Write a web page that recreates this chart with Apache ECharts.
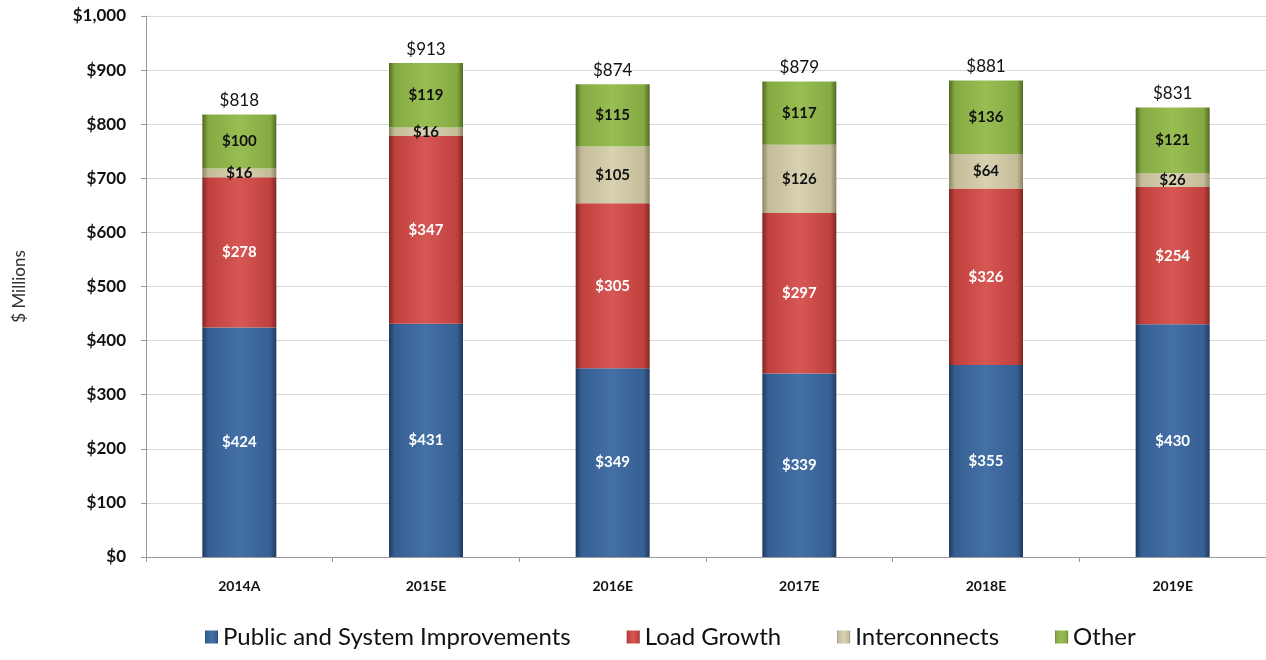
<!DOCTYPE html>
<html>
<head>
<meta charset="utf-8">
<script src="https://cdn.jsdelivr.net/npm/echarts@6/dist/echarts.min.js"></script>
<style>html,body{margin:0;padding:0;background:#fff}#c{width:1266px;height:660px}</style>
</head>
<body>
<div id="c"></div>
<script>
var categories = ['2014A','2015E','2016E','2017E','2018E','2019E'];
var publicSys = [424, 431, 349, 339, 355, 430];
var loadGrowth = [278, 347, 305, 297, 326, 254];
var interconnects = [16, 16, 105, 126, 64, 26];
var other = [100, 119, 115, 117, 136, 121];
var totals = categories.map(function(_, i){ return publicSys[i] + loadGrowth[i] + interconnects[i] + other[i]; });
var yTicks = [0, 100, 200, 300, 400, 500, 600, 700, 800, 900, 1000];

var FONT = 'Lato, "Open Sans", sans-serif';
function grad(dark, mid, light){
  return new echarts.graphic.LinearGradient(0,0,1,0,[
    {offset:0, color:dark},{offset:0.08, color:mid},{offset:0.5, color:light},{offset:0.92, color:mid},{offset:1, color:dark}
  ]);
}
function fmt(v){ return '$' + v; }
function lbl(color){
  return {show:true, position:'inside', color:color, fontFamily:FONT, fontWeight:'bold', fontSize:15,
    formatter:function(p){return fmt(p.value);}};
}
var chart = echarts.init(document.getElementById('c'));
chart.setOption({
  animation:false,
  grid:{left:146, right:-4, top:16, bottom:103},
  legend:{
    data:['Public and System Improvements','Load Growth','Interconnects','Other'],
    bottom:6, left:200, itemWidth:13, itemHeight:13, itemGap:56, icon:'rect',
    textStyle:{fontFamily:FONT, fontSize:24, color:'#111'}
  },
  xAxis:{
    type:'category', data:categories,
    axisLine:{lineStyle:{color:'#999'}},
    axisTick:{show:true, alignWithLabel:false, length:5, lineStyle:{color:'#999'}},
    axisLabel:{fontFamily:FONT, fontWeight:'bold', fontSize:14, color:'#111', margin:22}
  },
  yAxis:{
    type:'value', min:0, max:1000, interval:100,
    name:'$ Millions', nameLocation:'middle', nameGap:118, nameRotate:90,
    nameTextStyle:{fontFamily:FONT, fontSize:17, color:'#333'},
    axisLine:{show:true, lineStyle:{color:'#999'}},
    axisTick:{show:true, length:5, lineStyle:{color:'#999'}},
    splitLine:{lineStyle:{color:'#d9d9d9'}},
    axisLabel:{fontFamily:FONT, fontWeight:'bold', fontSize:17, color:'#111', margin:20,
      formatter:function(v){ return yTicks.indexOf(v) >= 0 ? '$' + v.toLocaleString('en-US') : ''; }}
  },
  series:[
    {name:'Public and System Improvements', type:'bar', stack:'a', data:publicSys, barWidth:74,
     itemStyle:{color:grad('#1f3a60','#365f93','#4470a6')}, label:lbl('#fff')},
    {name:'Load Growth', type:'bar', stack:'a', data:loadGrowth,
     itemStyle:{color:grad('#7f2624','#c0403d','#d65753')}, label:lbl('#fff')},
    {name:'Interconnects', type:'bar', stack:'a', data:interconnects,
     itemStyle:{color:grad('#8a8468','#c4bc98','#d8d2b2')}, label:lbl('#111')},
    {name:'Other', type:'bar', stack:'a', data:other,
     itemStyle:{color:grad('#4f6a22','#86aa43','#98bd52')}, label:lbl('#111')},
    {name:'Total', type:'bar', stack:'a', data:totals.map(function(){return 0;}),
     itemStyle:{color:'transparent'},
     label:{show:true, position:'top', distance:5, color:'#111', fontFamily:FONT, fontSize:17,
       formatter:function(p){ return fmt(totals[p.dataIndex]); }}}
  ]
});
</script>
</body>
</html>
